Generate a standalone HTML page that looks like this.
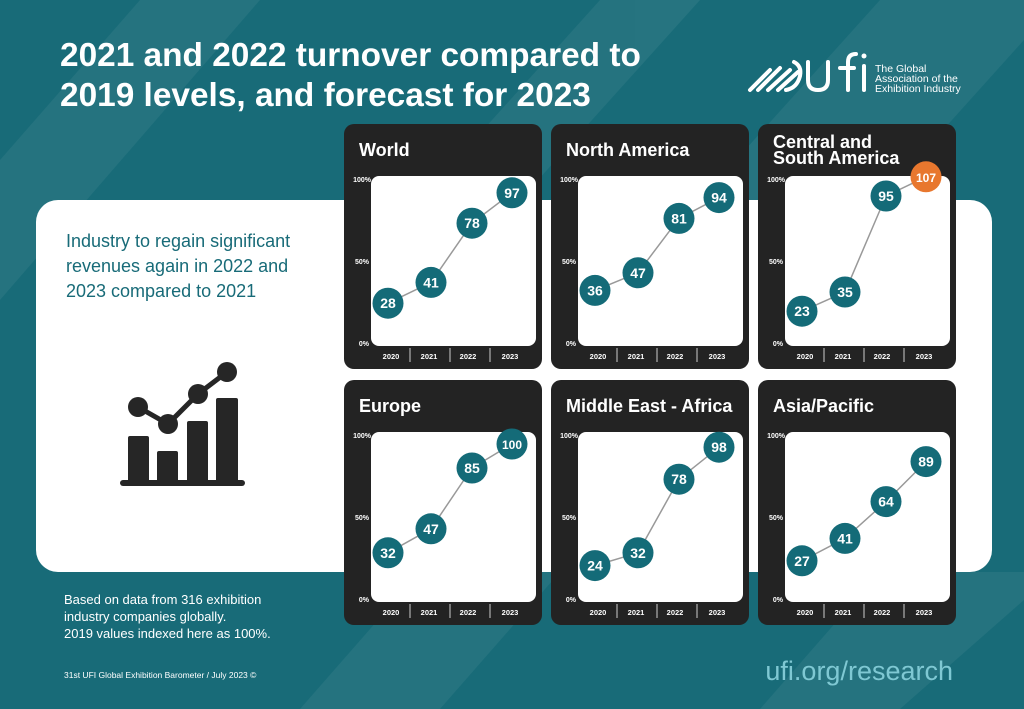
<!DOCTYPE html>
<html><head><meta charset="utf-8"><style>
html,body{margin:0;padding:0;width:1024px;height:709px;overflow:hidden;background:#186b78;}
svg{display:block;font-family:"Liberation Sans",Arial,sans-serif;}
</style></head><body>
<svg id="s" width="1024" height="709" viewBox="0 0 1024 709" xmlns="http://www.w3.org/2000/svg">
<rect width="1024" height="709" fill="#186b78"/>
<g fill="#ffffff" opacity="0.06">
<polygon points="0,160 140,0 260,0 0,300"/>
<polygon points="420,200 600,0 700,0 520,200"/>
<polygon points="700,200 880,0 1024,0 1024,40 880,200"/>
<polygon points="300,709 420,572 560,572 440,709"/>
<polygon points="760,709 880,572 1024,572 1024,600 900,709"/>
</g>
<rect x="36" y="200" width="956" height="372" rx="22" fill="#ffffff"/>
<text x="60" y="66" font-size="33.4" font-weight="bold" fill="#fff">2021 and 2022 turnover compared to</text>
<text x="60" y="106" font-size="33.4" font-weight="bold" fill="#fff">2019 levels, and forecast for 2023</text>
<g stroke="#fff" stroke-width="4" stroke-linecap="round" fill="none">
<line x1="750" y1="90" x2="770" y2="70"/><line x1="758" y1="90" x2="780" y2="68"/><line x1="768" y1="90" x2="790" y2="70"/><line x1="778" y1="90" x2="798" y2="72"/>
<path d="M794 62 q8 4 6 14 q-3 12 -14 14"/>
<path d="M808 62 v18 q0 10 10 10 q10 0 10 -10 v-18"/>
<path d="M848 90 v-28 q0 -8 8 -8 M840 68 h14"/>
<line x1="864" y1="66" x2="864" y2="90"/>
</g>
<circle cx="864" cy="56" r="2.5" fill="#fff"/>
<text font-size="10.5" fill="#fff"><tspan x="875" y="72">The Global</tspan><tspan x="875" y="82">Association of the</tspan><tspan x="875" y="92">Exhibition Industry</tspan></text>
<text font-size="18" fill="#186b78"><tspan x="66" y="247">Industry to regain significant</tspan><tspan x="66" y="272">revenues again in 2022 and</tspan><tspan x="66" y="297">2023 compared to 2021</tspan></text>
<g fill="#262626">
<rect x="128" y="436" width="21" height="48" rx="2"/><rect x="157" y="451" width="21" height="33" rx="2"/>
<rect x="187" y="421" width="21" height="63" rx="2"/><rect x="216" y="398" width="22" height="86" rx="2"/>
<rect x="120" y="480" width="125" height="6" rx="3"/>
<polyline points="138,407 168,424 198,394 227,372" fill="none" stroke="#262626" stroke-width="5"/>
<circle cx="138" cy="407" r="10"/><circle cx="168" cy="424" r="10"/><circle cx="198" cy="394" r="10"/><circle cx="227" cy="372" r="10"/>
</g>
<text font-size="13" fill="#fff"><tspan x="64" y="604">Based on data from 316 exhibition</tspan><tspan x="64" y="621">industry companies globally.</tspan><tspan x="64" y="638">2019 values indexed here as 100%.</tspan></text>
<text x="64" y="678" font-size="8.5" fill="#fff">31st UFI Global Exhibition Barometer / July 2023 ©</text>
<text x="953" y="680" font-size="27" fill="#7fc8d3" text-anchor="end">ufi.org/research</text>
<g id="panels"></g>
</svg>
<script>
var P=[["World",344,124,[28,41,78,97]],["North America",551,124,[36,47,81,94]],["Central and|South America",758,124,[23,35,95,107]],
["Europe",344,380,[32,47,85,100]],["Middle East - Africa",551,380,[24,32,78,98]],["Asia/Pacific",758,380,[27,41,64,89]]];
var h="";
P.forEach(function(p){var x=p[1],y=p[2];
h+='<rect x="'+x+'" y="'+y+'" width="198" height="245" rx="10" fill="#232323"/>';
var t=p[0].split("|");
if(t.length==1)h+='<text x="'+(x+15)+'" y="'+(y+32)+'" font-size="18" font-weight="bold" fill="#fff">'+t[0]+'</text>';
else h+='<text x="'+(x+15)+'" y="'+(y+24)+'" font-size="18" font-weight="bold" fill="#fff">'+t[0]+'</text><text x="'+(x+15)+'" y="'+(y+40)+'" font-size="18" font-weight="bold" fill="#fff">'+t[1]+'</text>';
h+='<rect x="'+(x+27)+'" y="'+(y+52)+'" width="165" height="170" rx="8" fill="#fff"/>';
h+='<text font-size="7" font-weight="bold" fill="#fff" text-anchor="end"><tspan x="'+(x+27)+'" y="'+(y+58)+'">100%</tspan><tspan x="'+(x+25)+'" y="'+(y+140)+'">50%</tspan><tspan x="'+(x+25)+'" y="'+(y+222)+'">0%</tspan></text>';
var cx=[44,87,128,168],lx=[47,85,124,166],yrs=["2020","2021","2022","2023"],pts=[];
for(var i=0;i<4;i++){h+='<text x="'+(x+lx[i])+'" y="'+(y+235)+'" font-size="7.5" font-weight="bold" fill="#fff" text-anchor="middle">'+yrs[i]+'</text>';
if(i>0)h+='<line x1="'+(x+66+(i-1)*40)+'" y1="'+(y+224)+'" x2="'+(x+66+(i-1)*40)+'" y2="'+(y+238)+'" stroke="#ccc" stroke-width="1"/>';
pts.push([x+cx[i],y+224-p[3][i]*1.6]);}
h+='<polyline points="'+pts.map(function(q){return q.join(",")}).join(" ")+'" fill="none" stroke="#999" stroke-width="1.5"/>';
for(i=0;i<4;i++){var c=p[3][i]>100?"#e8772e":"#146b78";
h+='<circle cx="'+pts[i][0]+'" cy="'+pts[i][1]+'" r="15.5" fill="'+c+'"/><text x="'+pts[i][0]+'" y="'+(pts[i][1]+5)+'" font-size="'+(p[3][i]>99?12:14)+'" font-weight="bold" fill="#fff" text-anchor="middle">'+p[3][i]+'</text>';}
});
document.getElementById("panels").innerHTML=h;
</script>
</body></html>
